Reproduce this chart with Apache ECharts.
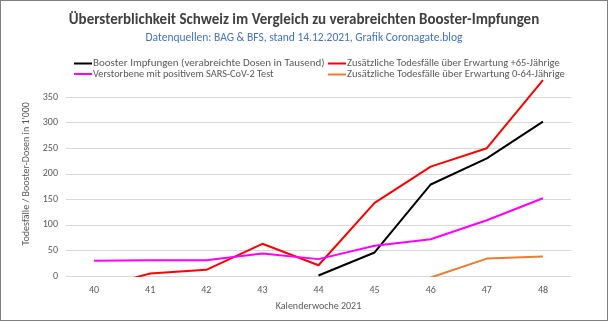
<!DOCTYPE html>
<html><head><meta charset="utf-8">
<script src="https://cdn.jsdelivr.net/npm/echarts@6/dist/echarts.min.js"></script>
<style>
html,body{margin:0;padding:0;background:#fff;}
#c{width:608px;height:321px;box-sizing:border-box;border:1px solid #7f7f7f;}
</style></head>
<body><div id="c"></div>
<script>
const categories = ['40','41','42','43','44','45','46','47','48'];
const booster = [null,null,null,null,1,46,179,230,302];
const excess65 = [-25,5,12,63,21,143,214,250,383];
const positiveTest = [30,31,31,44,33,59,72,109,152];
const excess0to64 = [null,null,null,null,null,null,-3,34,38];
const yTicksMax = 400;

const chart = echarts.init(document.getElementById('c'));
const font = 'Calibri, Carlito, "Liberation Sans", sans-serif';
const txt = '#595959';
function legend(name, left, top, fs){
  return {data:[name], left:left, top:top, icon:'rect', itemWidth:18, itemHeight:2,
    itemGap:2, padding:0, textStyle:{fontFamily:font, fontSize:fs, color:txt, padding:[0,0,0,-4]}};
}
function line(name, data, color){
  return {name:name, type:'line', data:data, symbol:'none', clip:true,
    lineStyle:{color:color, width:2}, itemStyle:{color:color}, connectNulls:false};
}
chart.setOption({
  animation:false,
  title:{text:'Übersterblichkeit Schweiz im Vergleich zu verabreichten Booster-Impfungen',
    subtext:'Datenquellen: BAG & BFS, stand 14.12.2021, Grafik Coronagate.blog',
    left:'center', top:7, itemGap:4,
    textStyle:{fontFamily:font, fontSize:15, fontWeight:'bold', color:'#404040'},
    subtextStyle:{fontFamily:font, fontSize:11.5, color:'#4472C4'}},
  legend:[
    legend('Booster Impfungen (verabreichte Dosen in Tausend)', 73, 57, 11),
    legend('Zusätzliche Todesfälle über Erwartung +65-Jährige', 327, 57, 10.5),
    legend('Verstorbene mit positivem SARS-CoV-2 Test', 73, 68, 10.3),
    legend('Zusätzliche Todesfälle über Erwartung 0-64-Jährige', 327, 68, 10.6)
  ],
  grid:{left:65, right:36, top:70.5, bottom:44},
  xAxis:{type:'category', data:categories, boundaryGap:true,
    name:'Kalenderwoche 2021', nameLocation:'middle', nameGap:25,
    nameTextStyle:{fontFamily:font, fontSize:10, color:txt},
    axisLine:{show:false}, axisTick:{show:false},
    axisLabel:{fontFamily:font, fontSize:10, color:txt, margin:9}},
  yAxis:{type:'value', min:0, max:yTicksMax, interval:50,
    name:"Todesfälle / Booster-Dosen in 1'000", nameLocation:'middle', nameGap:34,
    nameTextStyle:{fontFamily:font, fontSize:10, color:txt},
    axisLine:{show:false}, axisTick:{show:false},
    axisLabel:{fontFamily:font, fontSize:10, color:txt, margin:8,
      formatter:v=> v===yTicksMax ? '' : v},
    splitLine:{lineStyle:{color:['#d9d9d9','#d9d9d9','#d9d9d9','#d9d9d9','#d9d9d9','#d9d9d9','#d9d9d9','#d9d9d9','rgba(0,0,0,0)'], width:1}}},
  series:[
    line('Booster Impfungen (verabreichte Dosen in Tausend)', booster, '#000000'),
    line('Zusätzliche Todesfälle über Erwartung +65-Jährige', excess65, '#FF0000'),
    line('Verstorbene mit positivem SARS-CoV-2 Test', positiveTest, '#FF00FF'),
    line('Zusätzliche Todesfälle über Erwartung 0-64-Jährige', excess0to64, '#ED7D31')
  ]
});
</script></body></html>
